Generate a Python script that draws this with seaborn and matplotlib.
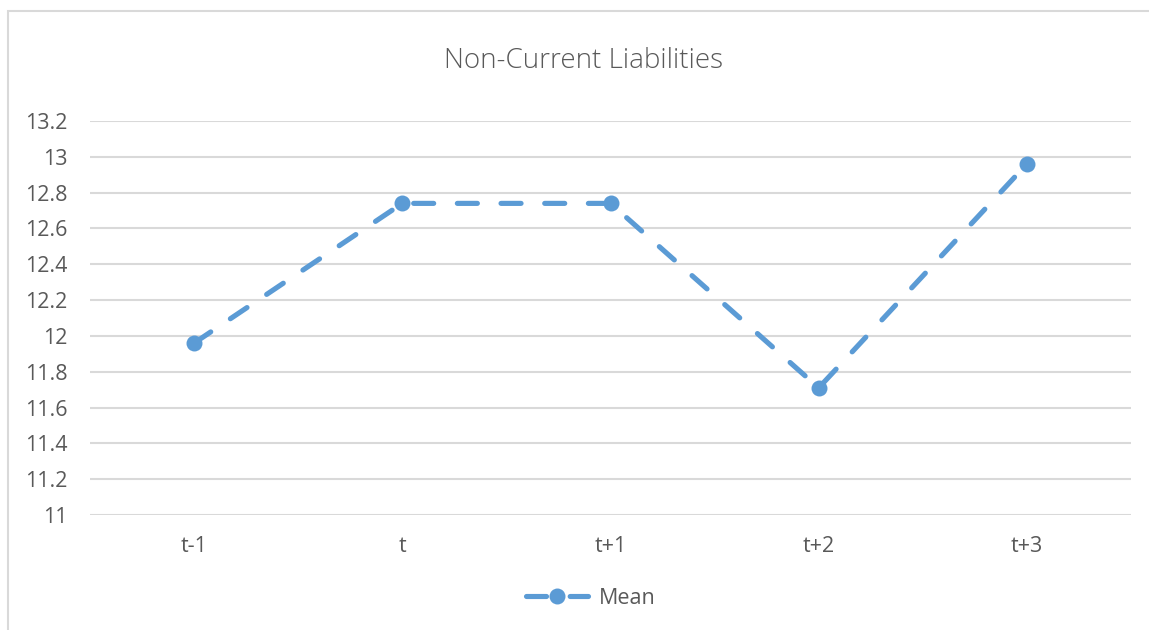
import matplotlib
matplotlib.use("Agg")
import matplotlib.pyplot as plt
import seaborn as sns
import pandas as pd
from matplotlib.patches import Rectangle

# Mean non-current liabilities around the event period
periods = ["t-1", "t", "t+1", "t+2", "t+3"]
means = [11.96, 12.74, 12.74, 11.71, 12.96]
series_name = "Mean"
title = "Non-Current Liabilities"
y_ticks = [11, 11.2, 11.4, 11.6, 11.8, 12, 12.2, 12.4, 12.6, 12.8, 13, 13.2]

sns.set_theme(style="white")
plt.rcParams["font.family"] = ["Open Sans", "DejaVu Sans"]

blue = "#5B9BD5"
grey_text = "#595959"
grid_col = "#D9D9D9"

fig = plt.figure(figsize=(11.49, 6.30), dpi=100)
fig.patch.set_facecolor("white")

# chart frame (top and left edges visible)
fig.patches.append(Rectangle((8 / 1149, -0.1), 1.2, 1 - 11 / 630 + 0.1,
                             transform=fig.transFigure, fill=False,
                             edgecolor="#D9D9D9", linewidth=1.5, zorder=0))

ax = fig.add_axes([90 / 1149, 1 - 515 / 630, (1131 - 90) / 1149, (515 - 121) / 630])

df = pd.DataFrame({"period": periods, "value": means})
sns.lineplot(data=df, x="period", y="value", ax=ax, sort=False,
             color=blue, linewidth=3.7, marker="o", markersize=11.5,
             markeredgewidth=0, label=series_name)

line = ax.lines[0]
line.set_dashes((3.9, 4.6))
line.set_dash_capstyle("round")

ax.set_xlim(-0.5, len(periods) - 0.5)
ax.set_ylim(11, 13.2)
ax.set_yticks(y_ticks)
ax.set_yticklabels([f"{v:g}" for v in y_ticks])
ax.yaxis.grid(True, color=grid_col, linewidth=1.5)
ax.set_axisbelow(True)
for s in ax.spines.values():
    s.set_visible(False)
ax.tick_params(axis="both", length=0, labelsize=15.5, colors=grey_text)
ax.tick_params(axis="y", pad=16)
ax.tick_params(axis="x", pad=15)
ax.set_xlabel("")
ax.set_ylabel("")

fig.text(584 / 1149, 1 - 61 / 630, title, ha="center", va="center",
         fontsize=20, fontweight="light", color=grey_text)

leg = ax.legend(loc="center", bbox_to_anchor=(591 / 1149, 1 - 598 / 630),
                bbox_transform=fig.transFigure, frameon=False, fontsize=15.5,
                handlelength=2.9, handletextpad=0.5)
for t in leg.get_texts():
    t.set_color(grey_text)

fig.savefig("out.png", dpi=100, facecolor="white")
